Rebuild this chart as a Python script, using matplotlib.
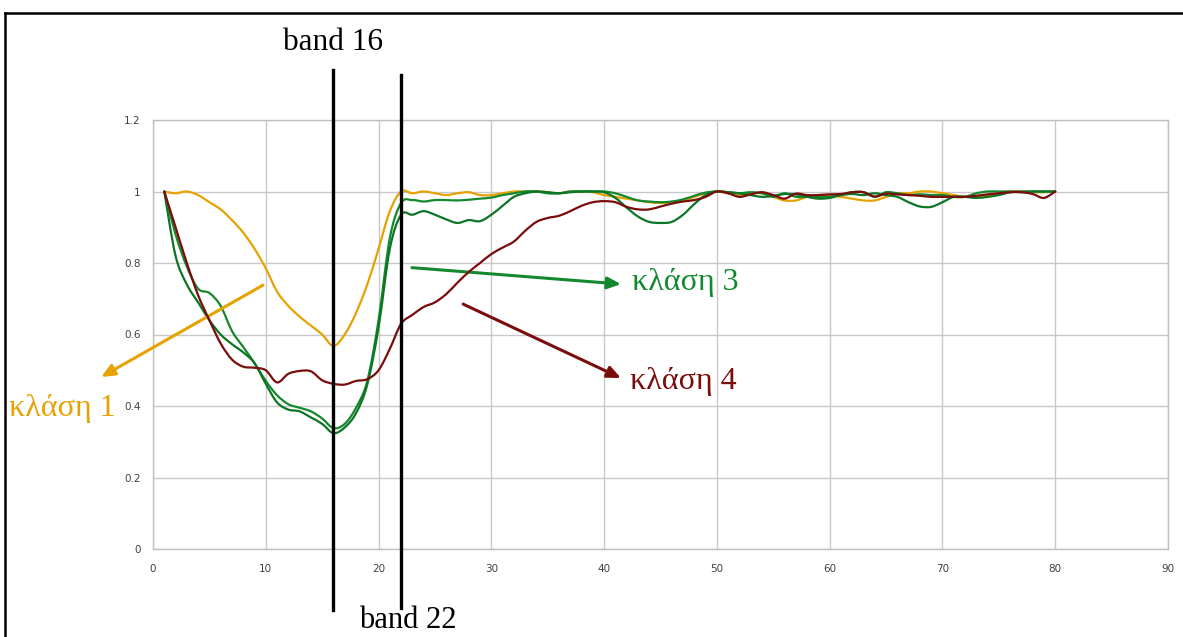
import matplotlib
matplotlib.use("Agg")
import matplotlib.pyplot as plt
import numpy as np
from matplotlib.lines import Line2D
from matplotlib.path import Path
from matplotlib.patches import PathPatch

# Spectral band index (x) and normalised response of each class
bands = list(range(1, 81))

class1 = [1.000, 0.995, 1.000, 0.990, 0.970, 0.950, 0.920, 0.885, 0.840, 0.785,
          0.720, 0.680, 0.650, 0.625, 0.600, 0.568, 0.600, 0.660, 0.740, 0.840,
          0.945, 1.000, 0.995, 1.000, 0.995, 0.990, 0.995, 0.998, 0.990, 0.990,
          0.995, 1.000, 1.000, 1.000, 0.998, 0.995, 1.000, 1.000, 0.998, 0.990,
          0.985, 0.980, 0.975, 0.970, 0.968, 0.970, 0.975, 0.985, 0.995, 1.000,
          0.995, 0.990, 0.995, 0.995, 0.985, 0.975, 0.975, 0.985, 0.990, 0.990,
          0.985, 0.980, 0.975, 0.975, 0.985, 0.995, 0.995, 1.000, 1.000, 0.995,
          0.990, 0.985, 0.985, 0.990, 0.995, 1.000, 1.000, 0.998, 0.998, 1.000]

class2 = [1.000, 0.880, 0.790, 0.728, 0.716, 0.680, 0.610, 0.565, 0.520, 0.470,
          0.430, 0.405, 0.395, 0.385, 0.365, 0.338, 0.350, 0.395, 0.470, 0.640,
          0.870, 0.968, 0.976, 0.972, 0.976, 0.976, 0.975, 0.977, 0.980, 0.983,
          0.990, 0.995, 1.000, 1.000, 0.995, 0.995, 1.000, 1.000, 1.000, 1.000,
          0.995, 0.985, 0.975, 0.972, 0.970, 0.972, 0.978, 0.988, 0.997, 1.000,
          0.998, 0.995, 0.998, 0.995, 0.985, 0.995, 0.985, 0.985, 0.985, 0.985,
          0.990, 0.998, 0.998, 0.985, 0.998, 0.995, 0.990, 0.992, 0.990, 0.990,
          0.985, 0.985, 0.995, 1.000, 1.000, 1.000, 0.998, 1.000, 1.000, 1.000]

class3 = [1.000, 0.820, 0.740, 0.690, 0.640, 0.600, 0.573, 0.550, 0.520, 0.462,
          0.410, 0.390, 0.385, 0.368, 0.350, 0.324, 0.340, 0.380, 0.460, 0.620,
          0.840, 0.935, 0.935, 0.945, 0.935, 0.922, 0.912, 0.920, 0.917, 0.935,
          0.960, 0.985, 0.995, 1.000, 0.998, 0.995, 0.998, 1.000, 1.000, 0.998,
          0.982, 0.955, 0.930, 0.915, 0.912, 0.915, 0.935, 0.965, 0.990, 1.000,
          0.998, 0.995, 0.990, 0.985, 0.988, 0.993, 0.992, 0.985, 0.980, 0.982,
          0.990, 0.993, 0.990, 0.995, 0.990, 0.985, 0.970, 0.958, 0.957, 0.970,
          0.985, 0.985, 0.982, 0.985, 0.990, 0.998, 1.000, 1.000, 1.000, 1.000]

class4 = [1.000, 0.900, 0.800, 0.710, 0.640, 0.575, 0.530, 0.510, 0.507, 0.500,
          0.466, 0.490, 0.498, 0.497, 0.472, 0.462, 0.460, 0.470, 0.475, 0.500,
          0.560, 0.630, 0.655, 0.677, 0.690, 0.713, 0.745, 0.775, 0.800, 0.825,
          0.843, 0.860, 0.890, 0.915, 0.926, 0.932, 0.945, 0.960, 0.970, 0.973,
          0.970, 0.957, 0.950, 0.950, 0.958, 0.966, 0.972, 0.976, 0.985, 1.000,
          0.995, 0.985, 0.992, 0.998, 0.990, 0.980, 0.994, 0.990, 0.990, 0.992,
          0.993, 0.998, 0.998, 0.986, 0.994, 0.992, 0.990, 0.988, 0.985, 0.985,
          0.985, 0.985, 0.988, 0.992, 0.995, 0.998, 0.998, 0.993, 0.982, 1.000]

x_ticks = [0, 10, 20, 30, 40, 50, 60, 70, 80, 90]
y_ticks = [0, 0.2, 0.4, 0.6, 0.8, 1.0, 1.2]
y_tick_labels = ["0", "0.2", "0.4", "0.6", "0.8", "1", "1.2"]
marked_bands = [16, 22]
marked_labels = ["band 16", "band 22"]
class_labels = ["κλάση 1", "κλάση 3", "κλάση 4"]

ORANGE = "#E6A200"
GREEN_A = "#13882E"
GREEN_B = "#0C7526"
DARK_RED = "#7A0C0C"


def smooth_line(ax, xs, ys, color, lw, zorder):
    """Draw a smoothed line passing through every (x, y) point
    using cubic Bezier segments (Catmull-Rom tangents)."""
    p = np.column_stack([xs, ys]).astype(float)
    n = len(p)
    verts = [p[0]]
    codes = [Path.MOVETO]
    for i in range(n - 1):
        p0 = p[i - 1] if i > 0 else p[i]
        p1, p2 = p[i], p[i + 1]
        p3 = p[i + 2] if i + 2 < n else p[i + 1]
        c1 = p1 + (p2 - p0) / 6.0
        c2 = p2 - (p3 - p1) / 6.0
        verts += [c1, c2, p2]
        codes += [Path.CURVE4] * 3
    patch = PathPatch(Path(verts, codes), facecolor="none", edgecolor=color,
                      lw=lw, zorder=zorder, capstyle="round",
                      joinstyle="round")
    ax.add_patch(patch)


W, H = 1183, 637
fig = plt.figure(figsize=(W / 100, H / 100), dpi=100)
fig.patch.set_facecolor("white")

ax = fig.add_axes([153 / W, 1 - 549 / H, (1168 - 153) / W, (549 - 120) / H])
ax.set_xlim(0, 90)
ax.set_ylim(0, 1.2)
ax.set_xticks(x_ticks)
ax.set_yticks(y_ticks)
ax.set_yticklabels(y_tick_labels)
ax.tick_params(axis="x", length=0, labelsize=7.5, labelcolor="#404040", pad=11)
ax.tick_params(axis="y", length=0, labelsize=7.5, labelcolor="#404040", pad=9)
ax.grid(True, color="#C8C8C8", linewidth=1.0)
ax.set_axisbelow(True)
for sp in ax.spines.values():
    sp.set_color("#BFBFBF")
    sp.set_linewidth(1.0)

smooth_line(ax, bands, class1, ORANGE, 1.6, 3)
smooth_line(ax, bands, class2, GREEN_A, 1.6, 3)
smooth_line(ax, bands, class3, GREEN_B, 1.6, 3)
smooth_line(ax, bands, class4, DARK_RED, 1.6, 4)

serif = ["Liberation Serif", "DejaVu Serif"]

# Vertical markers for the two selected bands
ax.plot([marked_bands[0]] * 2, [-0.171, 1.34], color="black", lw=2.4,
        clip_on=False, zorder=5)
ax.plot([marked_bands[1]] * 2, [-0.165, 1.326], color="black", lw=2.4,
        clip_on=False, zorder=5)
ax.text(marked_bands[0], 1.418, marked_labels[0], ha="center", va="center",
        fontsize=22.5, family=serif, color="black")
ax.text(marked_bands[1] + 0.6, -0.199, marked_labels[1], ha="center",
        va="center", fontsize=22, family=serif, color="black")

# Class call-outs with arrows
arrow_kw = dict(arrowstyle="-|>,head_length=0.8,head_width=0.35", lw=2.2,
                shrinkA=0, shrinkB=0)
ax.annotate("", xy=(-4.6, 0.481), xytext=(9.75, 0.738),
            arrowprops=dict(color=ORANGE, **arrow_kw), annotation_clip=False)
ax.annotate("", xy=(41.5, 0.741), xytext=(22.96, 0.787),
            arrowprops=dict(color=GREEN_A, **arrow_kw), annotation_clip=False)
ax.annotate("", xy=(41.5, 0.478), xytext=(27.5, 0.685),
            arrowprops=dict(color=DARK_RED, **arrow_kw), annotation_clip=False)

ax.text(-12.8, 0.394, class_labels[0], ha="left", va="center", fontsize=23,
        family=serif, color=ORANGE, clip_on=False)
ax.text(42.5, 0.745, class_labels[1], ha="left", va="center", fontsize=23,
        family=serif, color=GREEN_A)
ax.text(42.3, 0.468, class_labels[2], ha="left", va="center", fontsize=23,
        family=serif, color=DARK_RED)

# Outer frame (left and top edges)
fig.add_artist(Line2D([4.5 / W, 4.5 / W], [0, 1 - 13 / H], color="black",
                      lw=1.8, transform=fig.transFigure))
fig.add_artist(Line2D([4.5 / W, 1], [1 - 13 / H, 1 - 13 / H], color="black",
                      lw=1.8, transform=fig.transFigure))

fig.savefig("out.png", dpi=100, facecolor="white")
